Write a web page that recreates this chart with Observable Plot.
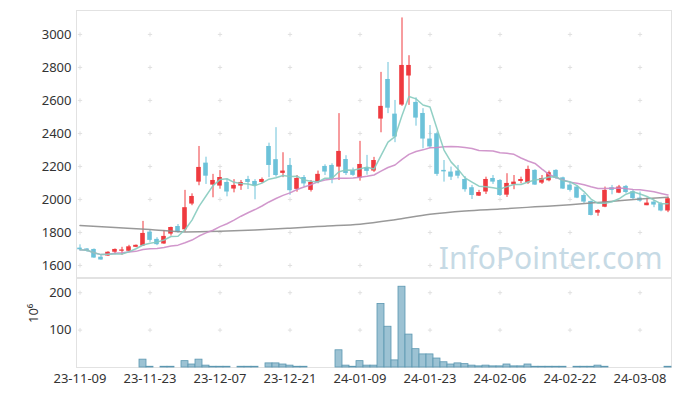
<!DOCTYPE html>
<html><head><meta charset="utf-8">
<script src="https://cdn.jsdelivr.net/npm/d3@7"></script>
<script src="https://cdn.jsdelivr.net/npm/@observablehq/plot@0.6"></script>
<style>
body{margin:0;background:#fff;}
#chart svg{display:block;}
</style></head><body><div id="chart"></div>
<script>
const dates = ["23-11-09","23-11-10","23-11-13","23-11-14","23-11-15","23-11-16","23-11-17","23-11-20","23-11-21","23-11-22","23-11-23","23-11-24","23-11-27","23-11-28","23-11-29","23-11-30",
"23-12-01","23-12-04","23-12-05","23-12-06","23-12-07","23-12-08","23-12-11","23-12-12","23-12-13","23-12-14","23-12-15","23-12-18","23-12-19","23-12-20","23-12-21",
"23-12-22","23-12-26","23-12-27","23-12-28",
"24-01-02","24-01-03","24-01-04","24-01-05","24-01-08","24-01-09","24-01-10","24-01-11","24-01-12","24-01-15","24-01-16","24-01-17","24-01-18","24-01-19","24-01-22","24-01-23","24-01-24","24-01-25","24-01-26","24-01-29","24-01-30","24-01-31",
"24-02-01","24-02-02","24-02-05","24-02-06","24-02-07","24-02-08","24-02-13","24-02-14","24-02-15","24-02-16","24-02-19","24-02-20","24-02-21","24-02-22","24-02-23","24-02-26","24-02-27","24-02-28","24-02-29",
"24-03-04","24-03-05","24-03-06","24-03-07","24-03-08","24-03-11","24-03-12","24-03-13","24-03-14"];

const open  = [1705,1700,1697,1650,1657,1680,1686,1686,1710,1718,1802,1758,1730,1790,1836,1816,1972,2105,2220,2087,2081,2103,2063,2081,2121,2109,2103,2321,2241,2158,2206,2061,2133,2055,2103,2200,2206,2196,2242,2176,2130,2190,2172,2487,2727,2517,2572,2748,2588,2521,2366,2398,2176,2166,2172,2121,2071,2020,2045,2127,2115,2026,2089,2109,2099,2176,2099,2113,2176,2131,2087,2075,2024,1988,1917,1953,2071,2038,2079,2047,2008,1962,1984,1974,1930];
const high  = [1725,1702,1700,1660,1683,1700,1710,1722,1724,1867,1812,1768,1812,1832,1848,2055,2034,2321,2256,2152,2175,2122,2120,2115,2140,2120,2130,2341,2435,2283,2248,2145,2145,2115,2172,2210,2216,2520,2265,2190,2352,2267,2255,2770,2830,2600,3100,2871,2616,2550,2448,2408,2236,2196,2206,2139,2085,2055,2135,2145,2120,2156,2145,2135,2202,2180,2145,2172,2180,2135,2100,2085,2035,1990,1938,2075,2085,2085,2085,2060,2045,2008,1995,1982,2014];
const low   = [1688,1680,1643,1632,1655,1665,1662,1684,1708,1716,1740,1720,1728,1778,1795,1802,1962,2083,2091,2010,2062,2016,2040,2055,2060,1998,2098,2132,2135,2132,2025,2044,2075,2045,2095,2145,2095,2115,2145,2140,2111,2147,2164,2404,2520,2344,2564,2570,2444,2307,2308,2140,2105,2115,2125,2044,2000,2018,2030,2091,2018,2012,2059,2095,2091,2085,2091,2107,2121,2060,2045,2005,1975,1900,1898,1950,2028,2035,2035,1995,1984,1962,1950,1925,1920];
const close = [1695,1690,1645,1633,1680,1697,1694,1713,1722,1794,1752,1726,1776,1830,1800,1950,2018,2194,2141,2115,2133,2045,2085,2103,2103,2082,2121,2206,2145,2172,2053,2127,2094,2103,2152,2166,2126,2291,2157,2146,2212,2170,2236,2564,2553,2378,2812,2812,2493,2366,2318,2152,2167,2135,2141,2059,2024,2042,2121,2105,2024,2097,2105,2121,2182,2087,2127,2162,2129,2063,2055,2008,1984,1903,1933,2055,2055,2075,2042,2005,1990,1978,1966,1930,2004];
const volume = [0,0,0,0,0,0,0,0,0,21,2,0,2,2,0,17,8,21,5,2,2,2,0,2,2,2,0,11,11,8,5,2,2,0,0,0,0,46,5,2,17,5,5,170,109,19,216,88,49,35,35,24,14,8,11,9,5,3,5,3,3,8,3,3,8,2,2,2,2,2,0,2,2,2,5,2,0,0,0,0,0,0,0,0,2];

// long moving average (grey line) at every 5th session
const longMaIdx = [0,5,10,15,20,25,30,35,40,45,50,55,60,65,70,75,80,84];
const longMaVal = [1842,1830,1818,1803,1807,1815,1826,1838,1850,1877,1910,1930,1942,1955,1968,1985,2002,2014];

const priceTicks = [1600,1800,2000,2200,2400,2600,2800,3000];
const volumeTicks = [100,200];
const dateTicks = dates.filter((d, i) => i % 10 === 0);

const UP = "#ef3a3f", DOWN = "#6cc2d9";
const rows = dates.map((d, i) => ({date: d, open: open[i], high: high[i], low: low[i], close: close[i], volume: volume[i], color: close[i] >= open[i] ? UP : DOWN}));
const longMa = longMaIdx.map((k, j) => ({date: dates[k], v: longMaVal[j]}));
const crossTop = dateTicks.flatMap(d => priceTicks.map(v => ({date: d, v})));
const crossBot = dateTicks.flatMap(d => volumeTicks.map(v => ({date: d, v})));

const font = {fontFamily: "'Noto Sans', sans-serif", fontSize: "13px", color: "#333", background: "#fff"};

const topPlot = Plot.plot({
  width: 680, height: 278,
  marginTop: 10, marginBottom: 1, marginLeft: 76, marginRight: 9,
  style: font,
  x: {type: "band", domain: dates, padding: 0, axis: null},
  y: {domain: [1527, 3145], ticks: priceTicks, tickFormat: d => String(d), tickSize: 0, tickPadding: 5, label: null},
  marks: [
    Plot.frame({stroke: "#e2e2e2"}),
    Plot.dot(crossTop, {x: "date", y: "v", symbol: "plus", r: 1.5, stroke: "#e0e0e0", strokeWidth: 1}),
    Plot.text(["InfoPointer.com"], {frameAnchor: "bottom-right", textAnchor: "end", lineAnchor: "bottom", dx: -9, dy: -9, fontSize: 30, fill: "#c6dae5"}),
    Plot.ruleX(rows, {x: "date", y1: "low", y2: "high", stroke: "color", strokeWidth: 1}),
    Plot.barY(rows, {x: "date", y1: "open", y2: "close", fill: "color", insetLeft: 1.2, insetRight: 1.2}),
    Plot.line(longMa, {x: "date", y: "v", stroke: "#8e8e8e", strokeWidth: 1.5, curve: "monotone-x", strokeOpacity: 0.9}),
    Plot.lineY(rows, Plot.windowY({k: 20, anchor: "end", reduce: "mean"}, {x: "date", y: "close", stroke: "#cc8cc6", strokeWidth: 1.5, strokeOpacity: 0.9})),
    Plot.lineY(rows, Plot.windowY({k: 5, anchor: "end", reduce: "mean"}, {x: "date", y: "close", stroke: "#86cbbf", strokeWidth: 1.5, strokeOpacity: 0.9}))
  ]
});

const botPlot = Plot.plot({
  width: 680, height: 118,
  marginTop: 0, marginBottom: 29, marginLeft: 76, marginRight: 9,
  style: font,
  x: {type: "band", domain: dates, padding: 0, ticks: dateTicks, tickSize: 0, tickPadding: 6, label: null},
  y: {domain: [0, 238], ticks: volumeTicks, tickFormat: d => String(d), tickSize: 0, tickPadding: 5, label: null},
  marks: [
    Plot.frame({stroke: "#e2e2e2"}),
    Plot.dot(crossBot, {x: "date", y: "v", symbol: "plus", r: 1.5, stroke: "#e0e0e0", strokeWidth: 1}),
    Plot.barY(rows, {x: "date", y: "volume", fill: "#9cc2d3", stroke: "#5b97b1", strokeWidth: 0.8}),
    Plot.text(["10⁶"], {frameAnchor: "left", dx: -43, rotate: -90, fontSize: 13, fill: "#333"})
  ]
});

document.getElementById("chart").append(topPlot, botPlot);
</script></body></html>
